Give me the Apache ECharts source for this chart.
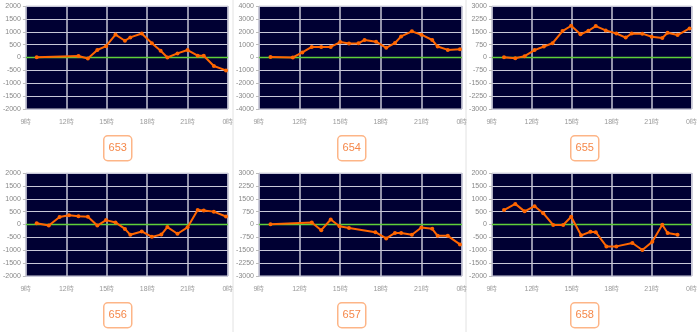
<!DOCTYPE html>
<html>
<head>
<meta charset="utf-8">
<script src="https://cdn.jsdelivr.net/npm/echarts@6/dist/echarts.min.js"></script>
<style>
  html, body { margin: 0; padding: 0; background: #fff; }
  #chart { width: 700px; height: 332px; }
</style>
</head>
<body>
<div id="chart"></div>
<script>
// Hour-of-day axis labels (9時 .. 0時)
const hourLabels = ['9時', '12時', '15時', '18時', '21時', '0時'];

// Machine numbers shown under each panel
const machines = ['653', '654', '655', '656', '657', '658'];

// Hours (decimal) and running balance for each machine
const hours653 = [9.8, 12.9, 13.6, 14.3, 14.95, 15.65, 16.35, 16.75, 17.6, 18.35, 19.0, 19.5, 20.25, 21.0, 21.75, 22.2, 22.95, 23.85];
const diff653  = [10, 60, -40, 290, 440, 890, 650, 780, 930, 550, 260, 0, 160, 290, 70, 70, -330, -500];

const hours654 = [9.85, 11.5, 12.2, 12.9, 13.6, 14.3, 15.0, 15.65, 16.35, 16.8, 17.65, 18.4, 19.05, 19.5, 20.3, 21.0, 21.8, 22.2, 22.95, 23.85];
const diff654  = [30, 0, 390, 820, 820, 820, 1200, 1080, 1100, 1360, 1230, 750, 1130, 1640, 2030, 1770, 1360, 850, 590, 640];

const hours655 = [9.9, 10.75, 11.45, 12.2, 12.9, 13.55, 14.3, 14.95, 15.65, 16.25, 16.8, 17.55, 18.35, 19.05, 19.5, 20.3, 21.0, 21.8, 22.2, 22.95, 23.85];
const diff655  = [20, -40, 80, 430, 640, 830, 1540, 1850, 1350, 1560, 1830, 1580, 1400, 1160, 1400, 1390, 1210, 1140, 1440, 1310, 1690];

const hours656 = [9.8, 10.7, 11.5, 12.2, 12.9, 13.6, 14.3, 14.95, 15.65, 16.35, 16.75, 17.6, 18.35, 19.05, 19.5, 20.25, 21.0, 21.75, 22.2, 22.95, 23.85];
const diff656  = [50, -40, 290, 360, 320, 300, -40, 170, 80, -170, -400, -270, -480, -390, -100, -360, -110, 560, 540, 500, 310];

const hours657 = [9.85, 12.9, 13.6, 14.3, 14.95, 15.65, 17.6, 18.4, 19.05, 19.5, 20.3, 21.0, 21.8, 22.2, 22.95, 23.85];
const diff657  = [20, 120, -330, 290, -100, -210, -450, -810, -490, -490, -600, -170, -250, -660, -660, -1160];

const hours658 = [9.9, 10.75, 11.45, 12.2, 12.85, 13.6, 14.35, 14.95, 15.7, 16.4, 16.8, 17.6, 18.35, 19.55, 20.3, 21.05, 21.8, 22.2, 22.95];
const diff658  = [560, 800, 510, 710, 440, -20, -20, 300, -420, -280, -300, -850, -850, -720, -990, -670, -10, -330, -400];

// Y range per panel: [min, max, interval]
const yRanges = [
  [-2000, 2000, 500],
  [-4000, 4000, 1000],
  [-3000, 3000, 750],
  [-2000, 2000, 500],
  [-3000, 3000, 750],
  [-2000, 2000, 500]
];

const hoursList = [hours653, hours654, hours655, hours656, hours657, hours658];
const diffList  = [diff653, diff654, diff655, diff656, diff657, diff658];

// Panel layout
const colX = [0, 233, 465];
const plotLeft = [25, 26, 27];
const plotWidth = 203;
const rowTop = [6, 173];
const plotHeight = 103;
const boxTop = [135, 302];

const grids = [], xAxes = [], yAxes = [], series = [], graphics = [];

for (let i = 0; i < 6; i++) {
  const col = i % 3, row = Math.floor(i / 3);
  grids.push({
    left: colX[col] + plotLeft[col],
    top: rowTop[row],
    width: plotWidth,
    height: plotHeight,
    show: true,
    backgroundColor: '#000033',
    borderColor: '#d4d4dc',
    borderWidth: 1
  });
  xAxes.push({
    type: 'value',
    gridIndex: i,
    min: 9, max: 24, interval: 3,
    axisLine: { show: false },
    axisTick: { show: false },
    axisLabel: {
      color: '#999',
      fontSize: 7,
      fontFamily: 'Liberation Sans, Arial, sans-serif',
      margin: 10,
      formatter: v => hourLabels[Math.round((v - 9) / 3)]
    },
    splitLine: { show: true, lineStyle: { color: '#c4c4d4', width: 1.5 } }
  });
  const yr = yRanges[i];
  yAxes.push({
    type: 'value',
    gridIndex: i,
    min: yr[0], max: yr[1], interval: yr[2],
    axisLine: { show: false },
    axisTick: { show: true, length: 3, lineStyle: { color: '#bbb' } },
    axisLabel: {
      color: '#888',
      fontSize: 7,
      fontFamily: 'Liberation Sans, Arial, sans-serif',
      margin: 5,
      formatter: v => String(v)
    },
    splitLine: { show: true, lineStyle: { color: '#c8c8d8', width: 1 } }
  });
  // zero line
  series.push({
    type: 'line',
    xAxisIndex: i, yAxisIndex: i,
    data: [[9, 0], [24, 0]],
    symbol: 'none',
    silent: true,
    lineStyle: { color: '#5fcf3a', width: 1.5 },
    z: 2
  });
  const pts = hoursList[i].map((h, k) => [h, diffList[i][k]]);
  series.push({
    type: 'line',
    xAxisIndex: i, yAxisIndex: i,
    data: pts,
    symbol: 'circle',
    symbolSize: 4,
    itemStyle: { color: '#ff6600' },
    lineStyle: { color: '#ff6600', width: 2 },
    z: 3
  });
  // machine number box
  const cx = colX[col] + plotLeft[col] + 92;
  graphics.push({
    type: 'group',
    left: cx - 14,
    top: boxTop[row],
    children: [
      {
        type: 'rect',
        shape: { x: 0, y: 0, width: 28, height: 25, r: 4 },
        style: { fill: '#fff', stroke: '#fdb587', lineWidth: 1.5 }
      },
      {
        type: 'text',
        x: 14, y: 12.5,
        style: {
          text: machines[i],
          fill: '#f5884a',
          font: '11px "Liberation Sans", Arial, sans-serif',
          align: 'center',
          verticalAlign: 'middle'
        }
      }
    ]
  });
}

// column separators
[233, 466].forEach(x => {
  graphics.push({
    type: 'line',
    shape: { x1: x, y1: 0, x2: x, y2: 332 },
    style: { stroke: '#e2e2e2', lineWidth: 1 }
  });
});

const chart = echarts.init(document.getElementById('chart'), null, { renderer: 'canvas' });
chart.setOption({
  animation: false,
  backgroundColor: '#fff',
  grid: grids,
  xAxis: xAxes,
  yAxis: yAxes,
  series: series,
  graphic: graphics
});
</script>
</body>
</html>
